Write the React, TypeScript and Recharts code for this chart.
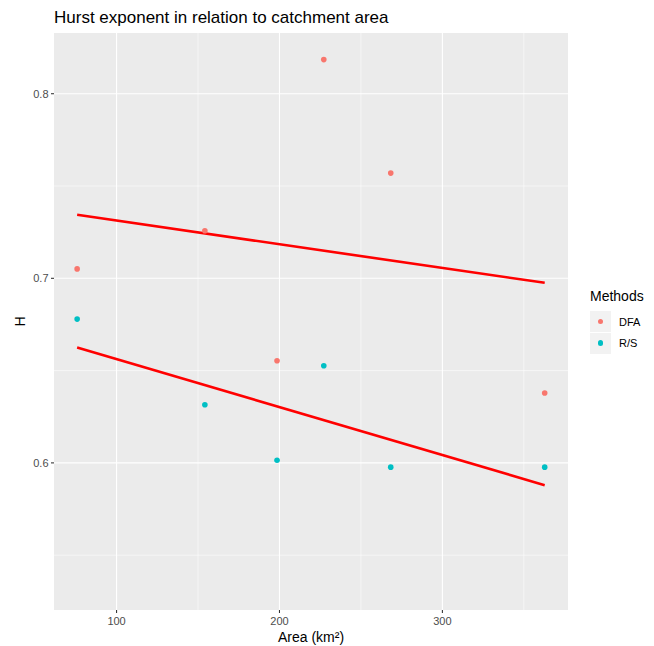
import { CartesianGrid, ComposedChart, Line, ReferenceLine, Scatter, XAxis, YAxis } from "recharts";

// catchment areas (km²), same six catchments for both methods
const areas = [75.8, 154.2, 198.5, 227.2, 268.3, 362.8];
const dfaH = [0.7051, 0.7258, 0.6553, 0.8185, 0.757, 0.6379];
const rsH = [0.6779, 0.6315, 0.6014, 0.6526, 0.5977, 0.5977];

const methods = ["DFA", "R/S"];
const methodColors = ["#F8766D", "#00BFC4"];

const xTicks = [100, 200, 300];
const xMinor = [150, 250, 350];
const yTicks = [0.6, 0.7, 0.8];
const yMinor = [0.55, 0.65, 0.75];

const FONT = '"Liberation Sans", Arial, Helvetica, sans-serif';

// least squares fit, evaluated at the ends of the data range (like geom_smooth(method = "lm"))
function lmLine(xs: number[], ys: number[]) {
  const n = xs.length;
  const mx = xs.reduce((a, b) => a + b, 0) / n;
  const my = ys.reduce((a, b) => a + b, 0) / n;
  let sxy = 0, sxx = 0;
  xs.forEach((x, i) => { sxy += (x - mx) * (ys[i] - my); sxx += (x - mx) ** 2; });
  const b = sxy / sxx;
  const lo = Math.min(...xs), hi = Math.max(...xs);
  return [lo, hi].map((x) => ({ x, y: my + b * (x - mx) }));
}

const dfaPts = areas.map((x, i) => ({ x, y: dfaH[i] }));
const rsPts = areas.map((x, i) => ({ x, y: rsH[i] }));
const dfaFit = lmLine(areas, dfaH);
const rsFit = lmLine(areas, rsH);

const dot = (color: string) => (p: any) => <circle cx={p.cx} cy={p.cy} r={2.8} fill={color} />;

export default function App() {
  return (
    <div style={{ position: "absolute", left: 0, top: 0, width: 654, height: 646, background: "#fff", fontFamily: FONT }}>
      <div style={{ position: "absolute", left: 54, top: 9, fontSize: 17, lineHeight: "17px", color: "#000", whiteSpace: "nowrap" }}>
        Hurst exponent in relation to catchment area
      </div>
      <ComposedChart width={654} height={646} margin={{ top: 33, right: 86, bottom: 0, left: 0 }}>
        <CartesianGrid fill="#EBEBEB" fillOpacity={1} horizontal={false} vertical={false} />
        {yMinor.map((v) => <ReferenceLine key={"ym" + v} y={v} stroke="#fff" strokeWidth={0.55} />)}
        {xMinor.map((v) => <ReferenceLine key={"xm" + v} x={v} stroke="#fff" strokeWidth={0.55} />)}
        {yTicks.map((v) => <ReferenceLine key={"y" + v} y={v} stroke="#fff" strokeWidth={1.1} />)}
        {xTicks.map((v) => <ReferenceLine key={"x" + v} x={v} stroke="#fff" strokeWidth={1.1} />)}
        <XAxis type="number" dataKey="x" domain={[61.6, 377.1]} allowDataOverflow ticks={xTicks} height={36}
          axisLine={false} tickSize={3} tickMargin={4} tickLine={{ stroke: "#333", strokeWidth: 1.07 }}
          tick={{ fill: "#4D4D4D", fontSize: 11 }}
          label={{ value: "Area (km²)", position: "insideBottom", offset: 4, fill: "#000", fontSize: 14 }} />
        <YAxis type="number" dataKey="y" domain={[0.5203, 0.8329]} allowDataOverflow ticks={yTicks} width={54}
          axisLine={false} tickSize={3} tickMargin={2.5} tickLine={{ stroke: "#333", strokeWidth: 1.07 }}
          tick={{ fill: "#4D4D4D", fontSize: 11 }} tickFormatter={(v: number) => v.toFixed(1)}
          label={{ value: "H", angle: -90, position: "insideLeft", offset: 20, fill: "#000", fontSize: 14, style: { textAnchor: "middle" } }} />
        <Scatter name="DFA" data={dfaPts} fill={methodColors[0]} shape={dot(methodColors[0])} isAnimationActive={false} />
        <Scatter name="R/S" data={rsPts} fill={methodColors[1]} shape={dot(methodColors[1])} isAnimationActive={false} />
        <Line data={dfaFit} dataKey="y" stroke="#FF0000" strokeWidth={2.6} strokeLinecap="butt" dot={false} activeDot={false}
          isAnimationActive={false} legendType="none" />
        <Line data={rsFit} dataKey="y" stroke="#FF0000" strokeWidth={2.6} strokeLinecap="butt" dot={false} activeDot={false}
          isAnimationActive={false} legendType="none" />
      </ComposedChart>
      <div style={{ position: "absolute", left: 590, top: 289, fontSize: 14, lineHeight: "14px", color: "#000" }}>Methods</div>
      {methods.map((m, i) => (
        <div key={m} style={{ position: "absolute", left: 590, top: 311 + i * 21.5, height: 21, display: "flex", alignItems: "center" }}>
          <div style={{ width: 21, height: 21, background: "#F2F2F2", position: "relative" }}>
            <div style={{ position: "absolute", left: 7.7, top: 7.7, width: 5.6, height: 5.6, borderRadius: "50%", background: methodColors[i] }} />
          </div>
          <span style={{ marginLeft: 8, fontSize: 11, color: "#000" }}>{m}</span>
        </div>
      ))}
    </div>
  );
}
